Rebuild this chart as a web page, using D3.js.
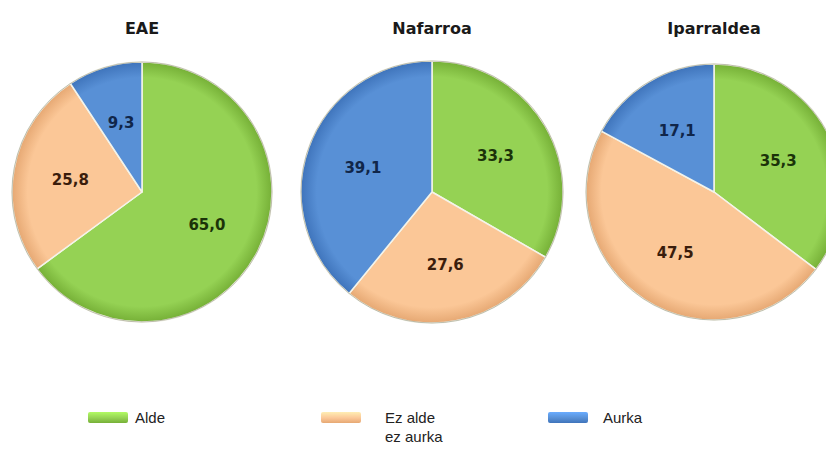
<!DOCTYPE html>
<html>
<head>
<meta charset="utf-8">
<script src="https://cdn.jsdelivr.net/npm/d3@7"></script>
<style>
  body { margin: 0; background: #fff; overflow: hidden; }
</style>
</head>
<body>
<div id="chart-area"></div>
<script>
// data
const regions = ['EAE', 'Nafarroa', 'Iparraldea']
const categories = ['Alde', 'Ez alde ez aurka', 'Aurka']
const eaeValues = [65.0, 25.8, 9.3]
const nafarroaValues = [33.3, 27.6, 39.1]
const iparraldeaValues = [35.3, 47.5, 17.1]
const legendLines = [['Alde'], ['Ez alde', 'ez aurka'], ['Aurka']]

const width = 826
const height = 450

const fills = ['#95d254', '#fbc797', '#5890d6']
const edges = ['#76b037', '#e6a873', '#3f74bb']
const labelColors = ['#1b3309', '#3a1d0c', '#10264a']

// pie layout
const centersX = [142, 432, 714]
const centerY = 192
const radii = [130, 131, 128]

const svg = d3.select('#chart-area')
  .append('svg')
    .attr('width', width)
    .attr('height', height)

const defs = svg.append('defs')

const fmt = d => d3.format('.1f')(d).replace('.', ',')

const pie = d3.pie().sort(null)
const allValues = [eaeValues, nafarroaValues, iparraldeaValues]

allValues.forEach((values, i) => {
  const r = radii[i]
  const g = svg.append('g')
    .attr('transform', `translate(${centersX[i]},${centerY})`)

  // radial gradients so the rim looks slightly bevelled
  categories.forEach((c, k) => {
    const grad = defs.append('radialGradient')
      .attr('id', `grad-${i}-${k}`)
      .attr('gradientUnits', 'userSpaceOnUse')
      .attr('cx', 0).attr('cy', 0).attr('r', r)
    grad.append('stop').attr('offset', '0%').attr('stop-color', fills[k])
    grad.append('stop').attr('offset', '88%').attr('stop-color', fills[k])
    grad.append('stop').attr('offset', '100%').attr('stop-color', edges[k])
  })

  const arc = d3.arc().innerRadius(0).outerRadius(r)
  const labelArc = d3.arc().innerRadius(r * 0.56).outerRadius(r * 0.56)

  const slices = pie(values)

  g.selectAll('path.slice')
    .data(slices)
    .enter()
    .append('path')
      .attr('class', 'slice')
      .attr('d', arc)
      .attr('fill', (d, k) => `url(#grad-${i}-${k})`)
      .attr('stroke', '#f4f4ea')
      .attr('stroke-width', 1.5)
      .attr('stroke-linejoin', 'round')

  g.append('circle')
    .attr('r', r)
    .attr('fill', 'none')
    .attr('stroke', 'rgba(90,90,60,0.35)')
    .attr('stroke-width', 1)

  g.selectAll('text.val')
    .data(slices)
    .enter()
    .append('text')
      .attr('class', 'val')
      .attr('transform', d => `translate(${labelArc.centroid(d)})`)
      .attr('text-anchor', 'middle')
      .attr('dy', '0.36em')
      .attr('font-family', 'DejaVu Sans, Verdana, sans-serif')
      .attr('font-weight', 'bold')
      .attr('font-size', '15px')
      .attr('fill', (d, k) => labelColors[k])
      .text(d => fmt(d.data))

  svg.append('text')
    .attr('x', centersX[i])
    .attr('y', 34)
    .attr('text-anchor', 'middle')
    .attr('font-family', 'DejaVu Sans, Verdana, sans-serif')
    .attr('font-weight', 'bold')
    .attr('font-size', '16px')
    .attr('fill', '#1a1a1a')
    .text(regions[i])
})

// legend
const legendX = [88, 321, 548]
const legendTextX = [135, 385, 603]
const swatchW = 40
const swatchH = 11

categories.forEach((c, k) => {
  const grad = defs.append('linearGradient')
    .attr('id', `leg-${k}`)
    .attr('x1', 0).attr('y1', 0).attr('x2', 0).attr('y2', 1)
  grad.append('stop').attr('offset', '0%').attr('stop-color', d3.color(fills[k]).brighter(0.5))
  grad.append('stop').attr('offset', '55%').attr('stop-color', fills[k])
  grad.append('stop').attr('offset', '100%').attr('stop-color', edges[k])

  svg.append('rect')
    .attr('x', legendX[k])
    .attr('y', 412)
    .attr('width', swatchW)
    .attr('height', swatchH)
    .attr('rx', 2)
    .attr('fill', `url(#leg-${k})`)

  svg.append('text')
    .attr('y', 423)
    .attr('font-family', 'Liberation Sans, Arial, sans-serif')
    .attr('font-size', '15px')
    .attr('fill', '#222')
    .selectAll('tspan')
    .data(legendLines[k])
    .enter()
    .append('tspan')
      .attr('x', legendTextX[k])
      .attr('dy', (d, j) => j === 0 ? 0 : 19)
      .text(d => d)
})
</script>
</body>
</html>
